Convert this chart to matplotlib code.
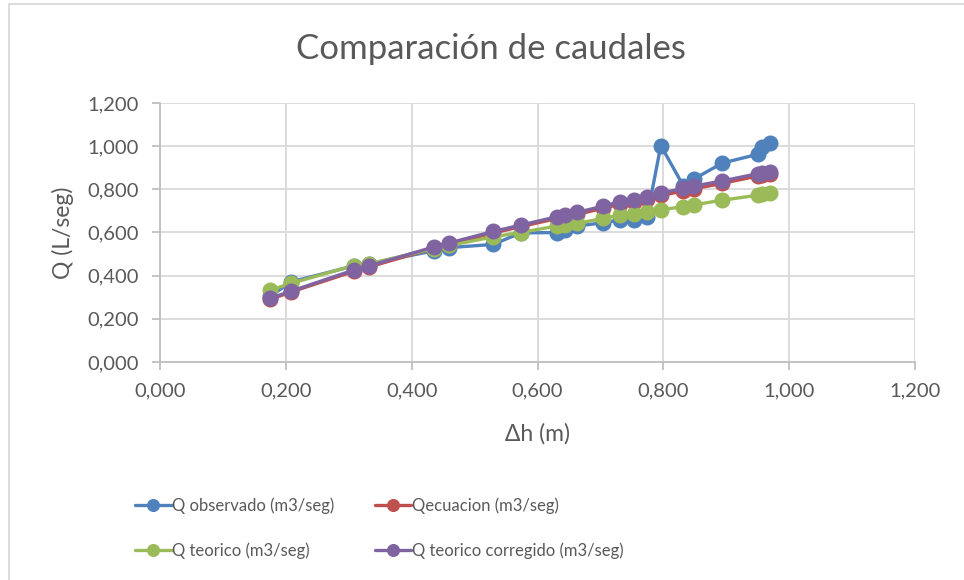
import matplotlib
matplotlib.use("Agg")
import matplotlib.pyplot as plt
from matplotlib.ticker import FuncFormatter, MultipleLocator
from matplotlib.patches import Rectangle

plt.rcParams['font.family'] = ['Lato', 'DejaVu Sans']

dh = [0.175, 0.209, 0.308, 0.332, 0.435, 0.460, 0.530, 0.573, 0.631, 0.644, 0.663,
      0.704, 0.731, 0.753, 0.774, 0.796, 0.832, 0.848, 0.894, 0.951, 0.957, 0.969]
q_obs = [0.305, 0.372, 0.445, 0.455, 0.515, 0.530, 0.545, 0.598, 0.600, 0.610, 0.630,
         0.645, 0.657, 0.660, 0.670, 1.003, 0.815, 0.847, 0.922, 0.963, 0.997, 1.015]
q_ecu = [0.290, 0.325, 0.420, 0.440, 0.527, 0.546, 0.598, 0.627, 0.665, 0.673, 0.684,
         0.712, 0.731, 0.742, 0.755, 0.772, 0.792, 0.802, 0.828, 0.862, 0.866, 0.870]
q_teo = [0.333, 0.365, 0.447, 0.455, 0.525, 0.540, 0.580, 0.600, 0.630, 0.635, 0.642,
         0.665, 0.680, 0.688, 0.696, 0.705, 0.720, 0.728, 0.750, 0.773, 0.778, 0.784]
q_cor = [0.295, 0.329, 0.426, 0.445, 0.533, 0.552, 0.605, 0.634, 0.673, 0.682, 0.693,
         0.722, 0.742, 0.752, 0.765, 0.783, 0.804, 0.815, 0.839, 0.873, 0.876, 0.881]

labels = ["Q observado (m3/seg)", "Qecuacion (m3/seg)",
          "Q teorico (m3/seg)", "Q teorico corregido (m3/seg)"]
colors = ["#4F81BD", "#C0504D", "#9BBB59", "#8064A2"]
series = [q_obs, q_ecu, q_teo, q_cor]

W, H = 964, 580
fig = plt.figure(figsize=(W / 100, H / 100), dpi=100)
ax = fig.add_axes([160 / W, 1 - 362 / H, (915 - 160) / W, (362 - 103) / H])

txt = "#595959"
handles = []
for ys, c, lab in zip(series, colors, labels):
    h, = ax.plot(dh, ys, color=c, lw=2.4, marker='o', ms=10.5, mfc=c, mec=c,
                 label=lab, solid_capstyle='round', clip_on=False)
    handles.append(h)

ax.set_xlim(0, 1.2)
ax.set_ylim(0, 1.2)
ax.xaxis.set_major_locator(MultipleLocator(0.2))
ax.yaxis.set_major_locator(MultipleLocator(0.2))
fmt = FuncFormatter(lambda v, p: f"{v:.3f}".replace('.', ','))
ax.xaxis.set_major_formatter(fmt)
ax.yaxis.set_major_formatter(fmt)
ax.grid(True, color="#D9D9D9", lw=1.3)
ax.set_axisbelow(True)
for s in ['top', 'right']:
    ax.spines[s].set_visible(False)
for s in ['left', 'bottom']:
    ax.spines[s].set_color("#BFBFBF")
    ax.spines[s].set_linewidth(1.3)
ax.tick_params(axis='both', colors="#BFBFBF", labelcolor=txt, labelsize=14.5,
               length=5.5, width=1.3)
ax.tick_params(axis='x', pad=9)
ax.tick_params(axis='y', pad=10)

ax.set_xlabel("Δh (m)", fontsize=16.5, color=txt, labelpad=17)
ax.set_ylabel("Q (L/seg)", fontsize=16.5, color=txt, labelpad=9)

fig.text(491 / W, 1 - 49 / H, "Comparación de caudales", ha='center', va='center',
         fontsize=25, color=txt)

order = [0, 2, 1, 3]
fig.legend(handles=[handles[i] for i in order], labels=[labels[i] for i in order],
           ncol=2, loc='upper left', bbox_to_anchor=(135 / W, 1 - 497 / H),
           frameon=False, fontsize=12, borderpad=0, borderaxespad=0,
           labelcolor=txt, handlelength=2.2, handletextpad=0.05,
           columnspacing=2.4, markerscale=0.8, labelspacing=1.74)

fig.patches.append(Rectangle((9 / W, -0.1), 1.2, 1 - 4 / H + 0.1,
                             transform=fig.transFigure, fill=False,
                             edgecolor="#D9D9D9", lw=1.3))

fig.savefig("out.png", dpi=100)
